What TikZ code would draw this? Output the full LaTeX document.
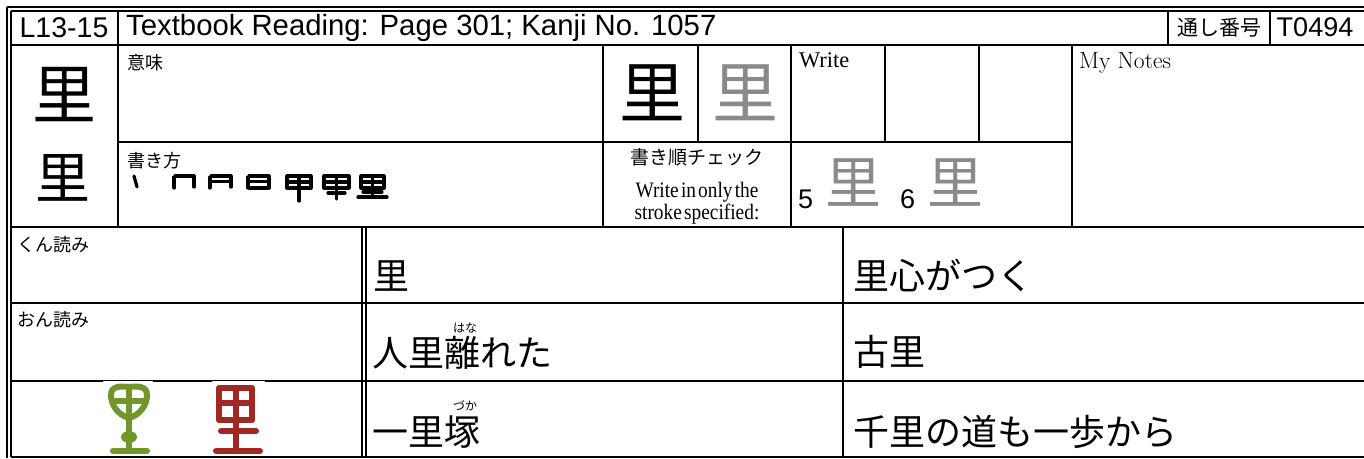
\documentclass[tikz,border=0pt]{standalone}
\usepackage{fontspec}
\usepackage{xcolor}
\usepackage{tikz}
\usetikzlibrary{positioning}
\newfontfamily\sans{Liberation Sans}
\newfontfamily\serif{Liberation Serif}
\newfontfamily\jp{Noto Sans CJK JP}
\newfontfamily\tight[FakeStretch=0.88, WordSpace=0.45]{Liberation Serif}
\newcommand{\fsz}[1]{\fontsize{#1}{#1}\selectfont}
\definecolor{ghost}{RGB}{138,138,138}
\definecolor{sealgreen}{RGB}{112,150,44}
\definecolor{sealred}{RGB}{160,40,34}
\tikzset{
    rule/.style={line width=2pt},
    txt/.style={inner sep=0pt, anchor=west},
    mid/.style={inner sep=0pt, anchor=center},
    strk/.style={line width=3.2pt, line cap=round, line join=round},
    seal/.style={line width=6pt, line cap=round, line join=round},
}

\begin{document}
\begin{tikzpicture}[x=1pt,y=-1pt]
    \useasboundingbox (0,0) rectangle (1364,458);
    \draw[rule] (7,7) -- (1364,7);
    \draw[rule] (10.5,10.5) -- (1364,10.5);
    \draw[rule] (7,7) -- (7,458);
    \draw[rule] (10.5,10.5) -- (10.5,456.5);
    \draw[rule] (10.5,456.5) -- (1364,456.5);
    \draw[rule] (10.5,45) -- (1364,45);
    \draw[rule] (118,142) -- (1072,142);
    \draw[rule] (10.5,227) -- (1364,227);
    \draw[rule] (10.5,303) -- (1364,303);
    \draw[rule] (10.5,381) -- (1364,381);
    \draw[rule] (118,10.5) -- (118,227);
    \draw[rule] (1168,10.5) -- (1168,45);
    \draw[rule] (1270,10.5) -- (1270,45);
    \draw[rule] (603,45) -- (603,227);
    \draw[rule] (698,45) -- (698,142);
    \draw[rule] (791,45) -- (791,227);
    \draw[rule] (885,45) -- (885,142);
    \draw[rule] (979,45) -- (979,142);
    \draw[rule] (1072,45) -- (1072,227);
    \draw[rule] (362,227) -- (362,456.5);
    \draw[rule] (366,227) -- (366,456.5);
    \draw[rule] (843,227) -- (843,456.5);

    \node[mid] (id) at (64,27.5) {\sans\fsz{28.5}L13-15};
    \node[txt] (ttl) at (126,27.5) {\sans\fsz{29.3}Textbook Reading: Page 301; Kanji No. 1057};
    \node[mid] (sn) at (1219,27.5) {\jp\fsz{21}通し番号};
    \node[mid] (no) at (1315,27.5) {\sans\fsz{27}T0494};

    \node[mid] (K1) at (64,95) {\jp\fsz{64}里};
    \node[mid] (K2) at (63,178) {\jp\fsz{55}里};
    \node[txt] (imi) at (127,62.5) {\jp\fsz{18}意味};
    \node[txt] (kaki) at (127,160.5) {\jp\fsz{18}書き方};
    \node[mid] (M1) at (652,93) {\jp\fsz{66}里};
    \node[mid, text=ghost] (M2) at (745,93) {\jp\fsz{66}里};
    \node[anchor=base west, inner sep=0pt] (wr) at (799,67) {\serif\fsz{22.4}Write};
    \node[anchor=base west, inner sep=0pt] (notes) at (1079,68.5) {\fsz{23.5}My Notes};
    \node[mid] (chk) at (697,157.5) {\jp\fsz{19}書き順チェック};
    \node[anchor=base, inner sep=0pt] (W1) at (697,197) {\tight\fsz{22}Write in only the};
    \node[anchor=base, inner sep=0pt] (W2) at (697,219) {\tight\fsz{22}stroke specified:};
    \node[anchor=base west, inner sep=0pt] (n5) at (798,208) {\sans\fsz{27}5};
    \node[mid, text=ghost] (S5) at (853,183) {\jp\fsz{56}里};
    \node[anchor=base west, inner sep=0pt] (n6) at (900,208) {\sans\fsz{27}6};
    \node[mid, text=ghost] (S6) at (955,183) {\jp\fsz{56}里};

    \draw[strk] (134,176) -- (137,187);
    \draw[strk] (174,177) -- (174,188) (175,176) -- (194,176) -- (194,187);
    \draw[strk] (210,177) -- (210,188) (211,176) -- (231,176) -- (231,187) (211,181.5) -- (230,181.5);
    \draw[strk] (248,177) -- (248,188) (249,176) -- (269,176) -- (269,188) (249,181.5) -- (268,181.5) (249,188) -- (269,188);
    \draw[strk] (287,176) rectangle (311,188) (287,182) -- (311,182) (299,176) -- (299,201);
    \draw[strk] (324,176) rectangle (349,188) (324,182) -- (349,182) (336.5,176) -- (336.5,199) (328,193) -- (345,193);
    \draw[strk] (361,176) rectangle (384,188) (361,182) -- (384,182) (372.5,176) -- (372.5,197) (363,192) -- (382,192) (358,197) -- (387,197);

    \node[txt] (kun) at (17,245) {\jp\fsz{18}くん読み};
    \node[txt] (on) at (17,320) {\jp\fsz{18}おん読み};

    \fill[white] (103,381.4) rectangle (153,384);
    \fill[white] (212,381.4) rectangle (265,384);
    \draw[seal, sealgreen] (129,418) .. controls (118,415) and (111,405) .. (111,395) .. controls (111,386) and (120,386) .. (129,387) .. controls (138,386) and (147,386) .. (147,395) .. controls (147,405) and (140,415) .. (129,418) -- cycle;
    \draw[seal, sealgreen] (129,387) -- (129,449) (112,401) -- (146,401) (113,451) -- (147,451);
    \fill[sealgreen] (129,437) ellipse (8 and 6);
    \draw[seal, sealred] (219,388) rectangle (252,420);
    \draw[seal, sealred] (235.5,388) -- (235.5,451) (219,403) -- (252,403) (221,431) -- (256,431) (216,451) -- (260,451);

    \node[txt] (r1) at (373,276) {\jp\fsz{36}里};
    \node[txt] (r2) at (372,353) {\jp\fsz{36}人里離れた};
    \node[mid] (f2) at (465,327.5) {\jp\fsz{12}はな};
    \node[txt] (r3) at (372,432) {\jp\fsz{36}一里塚};
    \node[mid] (f3) at (465,406) {\jp\fsz{12}づか};
    \node[txt] (q1) at (853,275) {\jp\fsz{36}里心がつく};
    \node[txt] (q2) at (853,352) {\jp\fsz{36}古里};
    \node[txt] (q3) at (853,432) {\jp\fsz{36}千里の道も一歩から};
\end{tikzpicture}
\end{document}
